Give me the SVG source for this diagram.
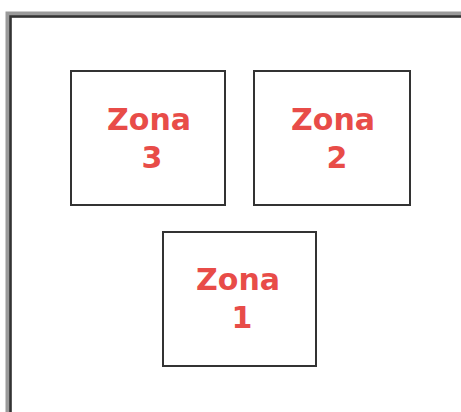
<svg xmlns="http://www.w3.org/2000/svg" width="461" height="412" viewBox="0 0 461 412">
<style>
.box{fill:#fff;stroke:#333;stroke-width:2}
.lbl{font-family:"DejaVu Sans",sans-serif;font-weight:bold;font-size:30px;fill:#e84c48;text-anchor:middle}
</style>
<rect width="461" height="412" fill="#fff"/>
<g id="frame">
<path d="M8.5 412 V14.5 H461" fill="none" stroke="#9a9a9a" stroke-width="6"/>
<path d="M10.5 412 V16.5 H461" fill="none" stroke="#333" stroke-width="2.5"/>
</g>
<g id="connectors"></g>
<g id="zona3">
<rect class="box" x="71" y="71" width="154" height="134"/>
<text class="lbl" x="149" y="130">Zona</text>
<text class="lbl" x="152" y="168">3</text>
</g>
<g id="zona2">
<rect class="box" x="254" y="71" width="156" height="134"/>
<text class="lbl" x="333" y="130">Zona</text>
<text class="lbl" x="337" y="168">2</text>
</g>
<g id="zona1">
<rect class="box" x="163" y="232" width="153" height="134"/>
<text class="lbl" x="238" y="290">Zona</text>
<text class="lbl" x="242" y="328">1</text>
</g>
</svg>
